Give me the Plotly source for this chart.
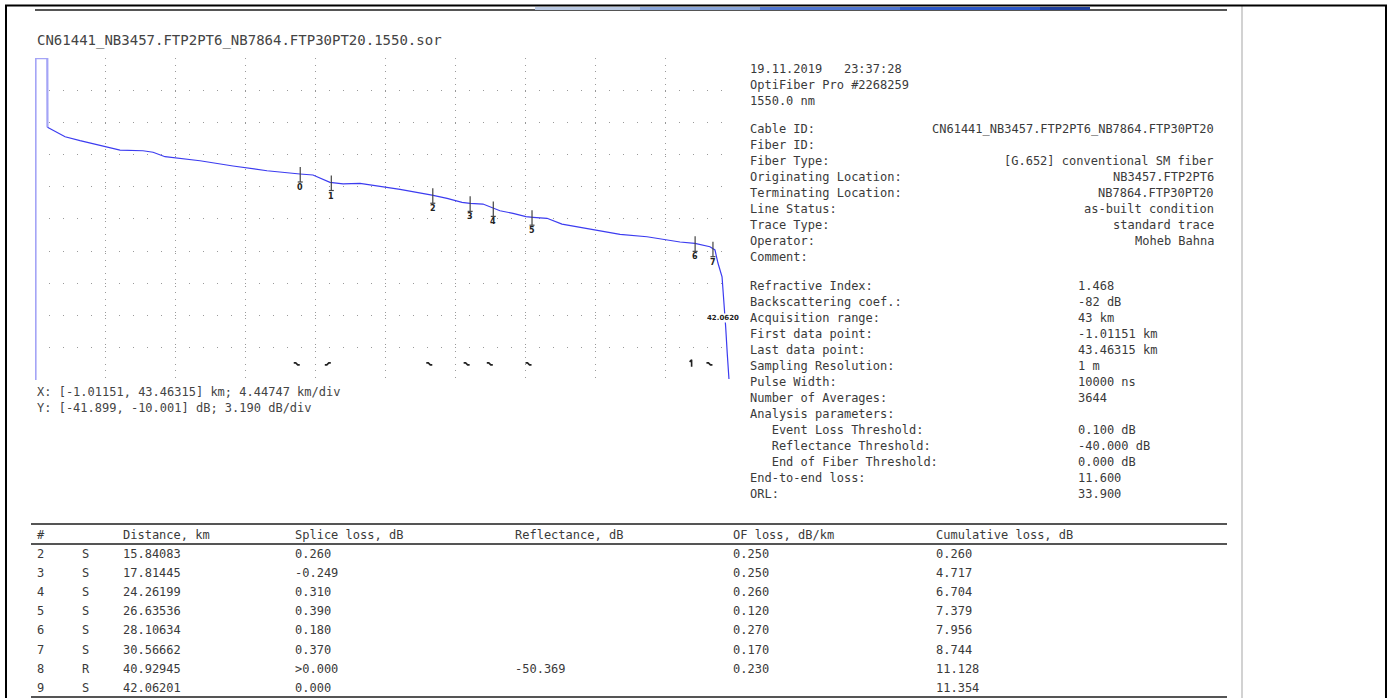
import numpy as np
import plotly.graph_objects as go

# ---------------- data ----------------
title_text = "CN61441_NB3457.FTP2PT6_NB7864.FTP30PT20.1550.sor"

x_range = [-1.01151, 43.46315]
x_div = 4.44747
y_range = [-41.899, -10.001]
y_div = 3.190

# OTDR trace (km, dB)
trace_km = [-0.98, -0.98, -0.23, -0.22, 0.90, 1.85, 3.31, 4.39, 5.85, 6.49, 7.25, 9.47,
            11.57, 13.73, 15.82, 16.65, 17.73, 18.56, 19.64, 22.18, 24.21, 25.17, 26.12,
            26.63, 27.45, 28.09, 28.53, 29.36, 30.18, 30.63, 31.52, 32.47, 33.61, 34.69,
            36.16, 37.87, 39.14, 39.97, 40.92, 41.87, 42.19, 42.38, 42.64, 42.76, 42.87,
            42.97, 43.08]
trace_db = [-41.90, -10.02, -10.02, -16.87, -17.80, -18.19, -18.69, -19.12, -19.19, -19.34,
            -19.78, -20.18, -20.70, -21.17, -21.49, -21.59, -22.32, -22.48, -22.42, -23.01,
            -23.58, -23.90, -24.30, -24.40, -24.47, -24.89, -25.13, -25.39, -25.72, -25.78,
            -25.88, -26.45, -26.77, -27.04, -27.47, -27.71, -28.03, -28.23, -28.36, -28.70,
            -29.02, -30.31, -31.67, -33.98, -36.62, -39.26, -41.80]
launch_points = 4  # first points of the trace (launch rise) drawn lighter

# event table
evt_no = [2, 3, 4, 5, 6, 7, 8, 9]
evt_type = ["S", "S", "S", "S", "S", "S", "R", "S"]
evt_dist = [15.84083, 17.81445, 24.26199, 26.63536, 28.10634, 30.56662, 40.92945, 42.06201]
evt_splice = ["0.260", "-0.249", "0.310", "0.390", "0.180", "0.370", ">0.000", "0.000"]
evt_refl = ["", "", "", "", "", "", "-50.369", ""]
evt_of_loss = ["0.250", "0.250", "0.260", "0.120", "0.270", "0.170", "0.230", ""]
evt_cumul = [0.260, 4.717, 6.704, 7.379, 7.956, 8.744, 11.128, 11.354]
table_header = ["#", "", "Distance, km", "Splice loss, dB", "Reflectance, dB",
                "OF loss, dB/km", "Cumulative loss, dB"]

info_head = ["19.11.2019   23:37:28", "OptiFiber Pro #2268259", "1550.0 nm"]
info_labels = ["Cable ID:", "Fiber ID:", "Fiber Type:", "Originating Location:",
               "Terminating Location:", "Line Status:", "Trace Type:", "Operator:", "Comment:"]
info_values = ["CN61441_NB3457.FTP2PT6_NB7864.FTP30PT20", "", "[G.652] conventional SM fiber",
               "NB3457.FTP2PT6", "NB7864.FTP30PT20", "as-built condition", "standard trace",
               "Moheb Bahna", ""]
param_labels = ["Refractive Index:", "Backscattering coef.:", "Acquisition range:",
                "First data point:", "Last data point:", "Sampling Resolution:", "Pulse Width:",
                "Number of Averages:", "Analysis parameters:", "   Event Loss Threshold:",
                "   Reflectance Threshold:", "   End of Fiber Threshold:", "End-to-end loss:", "ORL:"]
param_values = ["1.468", "-82 dB", "43 km", "-1.01151 km", "43.46315 km", "1 m", "10000 ns",
                "3644", "", "0.100 dB", "-40.000 dB", "0.000 dB", "11.600", "33.900"]

scale_lines = ["X: [-1.01151, 43.46315] km; 4.44747 km/div",
               "Y: [-41.899, -10.001] dB; 3.190 dB/div"]

# ---------------- layout helpers ----------------
W, H = 1389, 698
MONO = "DejaVu Sans Mono"
TXT = "#3a3a3a"

def px(x):
    return x / W

def py(y):
    return 1 - y / H

PLOT_L, PLOT_R, PLOT_T, PLOT_B = 35, 735, 58, 380
kmpp = (x_range[1] - x_range[0]) / (PLOT_R - PLOT_L)
dbpp = (y_range[1] - y_range[0]) / (PLOT_B - PLOT_T)

fig = go.Figure()
annotations = []
shapes = []

def nb(s):
    return s.replace(" ", "\u00a0")

def add_text(x, y, text, size=12, anchor="left", color=TXT, family=MONO):
    if text == "":
        return
    annotations.append(dict(x=px(x), y=py(y), xref="paper", yref="paper", text=nb(text),
                            showarrow=False, xanchor=anchor, yanchor="middle",
                            font=dict(family=family, size=size, color=color)))

def hline(x0, x1, y, color="#555555", width=2):
    shapes.append(dict(type="line", xref="paper", yref="paper", x0=px(x0), x1=px(x1),
                       y0=py(y), y1=py(y), line=dict(color=color, width=width)))

def vline(x, y0, y1, color="#000000", width=2):
    shapes.append(dict(type="line", xref="paper", yref="paper", x0=px(x), x1=px(x),
                       y0=py(y0), y1=py(y1), line=dict(color=color, width=width)))

# ---------------- trace ----------------
fig.add_trace(go.Scatter(x=trace_km[:launch_points], y=trace_db[:launch_points], mode="lines",
                         line=dict(color="#a4a4f6", width=2.2), hoverinfo="skip",
                         showlegend=False))
fig.add_trace(go.Scatter(x=trace_km[launch_points - 1:], y=trace_db[launch_points - 1:],
                         mode="lines", line=dict(color="#3c3cf0", width=1.2),
                         showlegend=False))

# event markers on the trace
tx, ty = [], []
for i, d in enumerate(evt_dist):
    y0 = float(np.interp(d, trace_km[2:], trace_db[2:]))
    top = y0 + 7 * dbpp
    bot = y0 - 8 * dbpp
    tx += [d, d, None, d - 2.5 * kmpp, d + 2.5 * kmpp, None]
    ty += [top, bot, None, bot, bot, None]
    annotations.append(dict(x=d, y=y0 - 13.5 * dbpp, xref="x", yref="y", text=f"<b>{i}</b>",
                            showarrow=False, xanchor="center", yanchor="middle",
                            font=dict(family="DejaVu Sans", size=8, color="#222222")))
fig.add_trace(go.Scatter(x=tx, y=ty, mode="lines", line=dict(color="#444444", width=1.2),
                         hoverinfo="skip", showlegend=False))

# event type glyphs near the bottom
GLYPH_Y = -40.3
gx, gy = [], []
for d, t, s in zip(evt_dist, evt_type, evt_splice):
    c = d - 3.5 * kmpp
    if t == "R":
        pts = [(-2, -2), (0, -4), (0, 3)]
    elif float(s.lstrip(">")) < 0:
        pts = [(-3, 1), (-1, 1), (1, -1), (3, -1)]
    else:
        pts = [(-3, -1), (-1, -1), (1, 1), (3, 1)]
    for dx, dy in pts:
        gx.append(c + dx * kmpp)
        gy.append(GLYPH_Y - dy * dbpp)
    gx.append(None)
    gy.append(None)
fig.add_trace(go.Scatter(x=gx, y=gy, mode="lines", line=dict(color="#222222", width=1.6),
                         hoverinfo="skip", showlegend=False))

# end-of-fiber distance label
annotations.append(dict(x=evt_dist[-1], y=-35.8, xref="x", yref="y", xshift=10,
                        text=f"<b>{evt_dist[-1]:.4f}</b>", showarrow=False,
                        xanchor="center", yanchor="middle", bgcolor="white", borderpad=0,
                        font=dict(family="DejaVu Sans", size=7, color="#222222")))

# ---------------- texts ----------------
add_text(35, 40, title_text, size=14, color="#444444")

for k, s in enumerate(scale_lines):
    add_text(35, 392 + 16 * k, s, color="#444444")

for k, s in enumerate(info_head):
    add_text(748, 69 + 16 * k, s)
for k, (lab, val) in enumerate(zip(info_labels, info_values)):
    add_text(748, 129 + 16 * k, lab)
    add_text(1216, 129 + 16 * k, val, anchor="right")
for k, (lab, val) in enumerate(zip(param_labels, param_values)):
    add_text(748, 286 + 16 * k, lab)
    add_text(1076, 286 + 16 * k, val)

col_x = [35, 80, 121, 293, 513, 731, 934]
for cx, h in zip(col_x, table_header):
    add_text(cx, 535, h)
for r in range(len(evt_no)):
    row = [str(evt_no[r]), evt_type[r], f"{evt_dist[r]:.5f}", evt_splice[r], evt_refl[r],
           evt_of_loss[r], f"{evt_cumul[r]:.3f}"]
    for cx, cell in zip(col_x, row):
        add_text(cx, 553.5 + 19.2 * r, cell)

# ---------------- page decoration ----------------
hline(35, 1227, 10)
hline(31, 1227, 524)
hline(31, 1227, 544)
hline(31, 1227, 697)
vline(1242, 5, 698, color="#d2d2d2", width=2)
vline(6, 5, 698)
vline(1386, 5, 698)
hline(5, 1387, 5.5, color="#000000", width=2)
band = [(535, 640, "#b9c8e2"), (640, 760, "#8aa6da"), (760, 900, "#4f76d2"),
        (900, 1040, "#2a57c8"), (1040, 1090, "#1e3f9c")]
for x0, x1, c in band:
    shapes.append(dict(type="rect", xref="paper", yref="paper", x0=px(x0), x1=px(x1),
                       y0=py(10), y1=py(7), line=dict(width=0), fillcolor=c))

fig.update_layout(
    width=W, height=H, margin=dict(l=0, r=0, t=0, b=0),
    paper_bgcolor="white", plot_bgcolor="white",
    xaxis=dict(domain=[px(PLOT_L), px(PLOT_R)], range=x_range, tick0=x_range[0], dtick=x_div,
               showgrid=True, gridcolor="#9a9a9a", gridwidth=1, griddash="1px,5.5px",
               showticklabels=False, ticks="", zeroline=False, showline=False, fixedrange=True),
    yaxis=dict(domain=[py(PLOT_B), py(PLOT_T)], range=y_range, tick0=y_range[0], dtick=y_div,
               showgrid=True, gridcolor="#9a9a9a", gridwidth=1, griddash="1px,13px",
               showticklabels=False, ticks="", zeroline=False, showline=False, fixedrange=True),
    annotations=annotations, shapes=shapes, showlegend=False,
)

fig.write_html(
    "out.html",
    config={"displayModeBar": False},
    post_script="document.body.style.margin='0';document.body.style.padding='0';"
                "document.body.style.overflow='hidden';",
)
